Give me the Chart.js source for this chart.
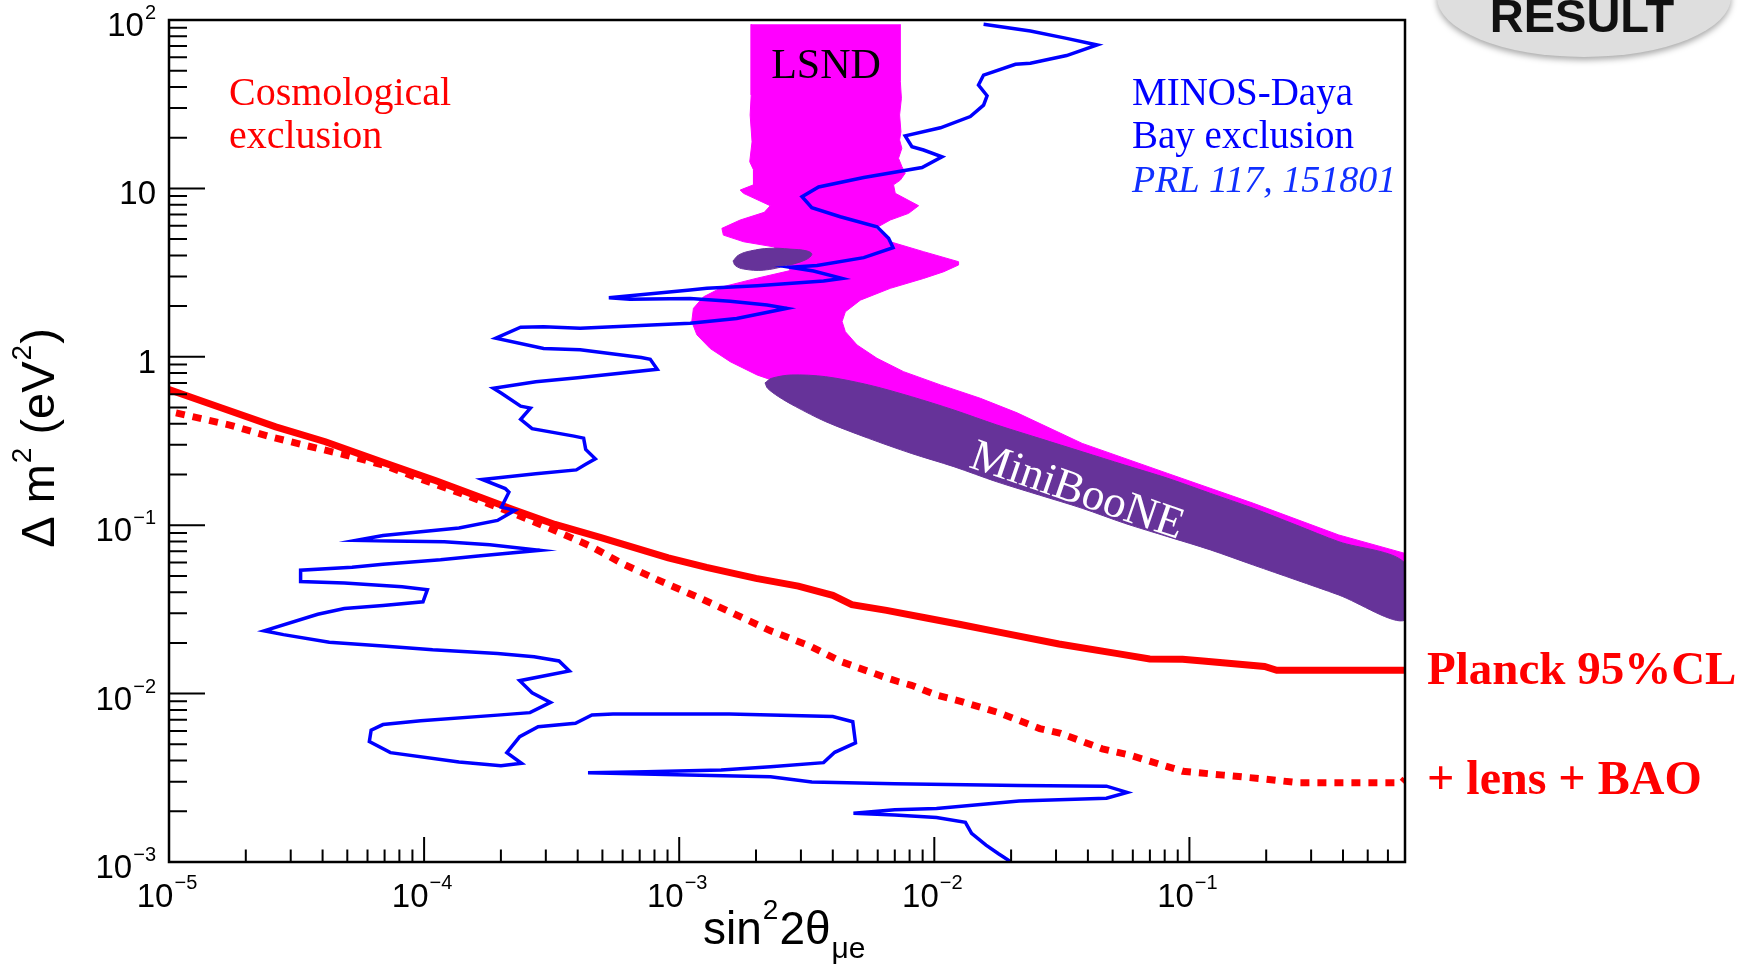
<!DOCTYPE html>
<html>
<head>
<meta charset="utf-8">
<script src="https://cdn.jsdelivr.net/npm/chart.js@4.4.1/dist/chart.umd.min.js"></script>
<style>
  html, body { margin: 0; padding: 0; background: #fff; }
  #wrap { width: 1744px; height: 967px; }
</style>
</head>
<body>
<div id="wrap"><canvas id="chart-excl" width="1744" height="967"></canvas></div>
<script>
// ---- data: [sin^2 2theta, dm^2 (eV^2)] ----

// Planck 95%CL, solid red
const planck95 = [[1e-5,0.64],[1.61e-5,0.497],[2.62e-5,0.384],[4.1e-5,0.313],[6.9e-5,0.236],[1.12e-4,0.183],
  [1.69e-4,0.145],[2.23e-4,0.124],[3.26e-4,0.101],[4.9e-4,0.0848],[9.06e-4,0.064],[1.28e-3,0.0562],[2.0e-3,0.0483],
  [2.93e-3,0.0435],[4.0e-3,0.0383],[4.75e-3,0.0337],[6.5e-3,0.0312],[9.2e-3,0.0282],[0.01252,0.0258],[0.01832,0.023],
  [0.0308,0.0197],[0.0516,0.01733],[0.0699,0.01604],[0.094,0.016],[0.113,0.0156],[0.197,0.0145],[0.22,0.01375],[0.7,0.01375]];

// + lens + BAO, dotted red
const lensBao = [[1.065e-5,0.464],[1.73e-5,0.393],[2.44e-5,0.338],[3.45e-5,0.297],[4.87e-5,0.262],[6.9e-5,0.228],
  [9.7e-5,0.188],[1.37e-4,0.156],[2.23e-4,0.118],[3.2e-4,0.094],[4.5e-4,0.075],[6.0e-4,0.059],[8.2e-4,0.0475],
  [1.2e-3,0.037],[1.6e-3,0.0303],[2.28e-3,0.0236],[3.25e-3,0.0192],[4.3e-3,0.0155],[6.5e-3,0.0124],[7.2e-3,0.0118],
  [8.14e-3,0.0112],[0.0102,0.0098],[0.013,0.0089],[0.0179,0.0077],[0.0259,0.0062],[0.0313,0.0058],[0.0455,0.0047],
  [0.0587,0.0043],[0.094,0.00346],[0.136,0.00328],[0.197,0.00311],[0.265,0.00296],[0.68,0.00296],[0.7,0.0031]];

// MINOS - Daya Bay exclusion contour, blue
const minosDayaBay = [[0.0156,94.3],[0.0238,86],[0.033,77.8],[0.0435,71.1],[0.033,61.5],[0.0238,55.3],[0.0208,54.6],
  [0.0156,47.1],[0.0149,41.1],[0.0161,35.5],[0.0156,31.2],[0.01384,26.7],[0.01057,22.9],[7.69e-3,20.5],[8.17e-3,17.7],
  [9.07e-3,16.9],[0.01072,15.4],[8.95e-3,13.3],[5.29e-3,11.6],[3.52e-3,10.2],[3.03e-3,8.93],[3.31e-3,7.68],[4.28e-3,6.79],
  [5.96e-3,5.92],[6.62e-3,5.06],[6.89e-3,4.45],[5.29e-3,3.88],[3.47e-3,3.48],[2.72e-3,3.4],[3.36e-3,3.23],[4.35e-3,2.92],
  [3.68e-3,2.82],[2.02e-3,2.64],[1.285e-3,2.55],[1.104e-3,2.49],[5.3e-4,2.24],[6.41e-4,2.2],[1.104e-3,2.22],[1.585e-3,2.14],
  [2.21e-3,2.03],[2.64e-3,1.94],[2.27e-3,1.85],[1.68e-3,1.69],[1.104e-3,1.58],[4.09e-4,1.48],[2.94e-4,1.51],[2.39e-4,1.5],
  [1.91e-4,1.29],[2.94e-4,1.12],[4.09e-4,1.1],[7.1e-4,0.99],[7.7e-4,0.966],[8.2e-4,0.843],[4.0e-4,0.75],[2.74e-4,0.711],
  [1.87e-4,0.65],[2.01e-4,0.608],[2.39e-4,0.509],[2.61e-4,0.496],[2.39e-4,0.425],[2.65e-4,0.374],[3.87e-4,0.338],
  [4.22e-4,0.329],[4.3e-4,0.282],[4.69e-4,0.248],[4.3e-4,0.23],[3.95e-4,0.213],[2.74e-4,0.202],[1.69e-4,0.187],
  [2.08e-4,0.165],[2.15e-4,0.157],[2.01e-4,0.128],[2.27e-4,0.1225],[1.94e-4,0.1067],[1.37e-4,0.0963],[9.7e-5,0.0915],
  [6.9e-5,0.0869],[5.41e-5,0.0812],[7.38e-5,0.0805],[1.2e-4,0.0797],[1.81e-4,0.0765],[2.84e-4,0.0709],[1.63e-4,0.0656],
  [1.16e-4,0.0623],[6.9e-5,0.0586],[5.22e-5,0.0562],[3.28e-5,0.054],[3.28e-5,0.0463],[4.87e-5,0.0454],[8.2e-5,0.0431],
  [1.03e-4,0.0414],[9.9e-5,0.0351],[6.9e-5,0.0334],[4.87e-5,0.032],[3.83e-5,0.0296],[2.36e-5,0.0236],[2.81e-5,0.0224],
  [4.25e-5,0.0202],[6.9e-5,0.0192],[1.08e-4,0.0182],[1.94e-4,0.01733],[2.7e-4,0.01656],[3.38e-4,0.01563],[3.71e-4,0.01362],
  [2.37e-4,0.01193],[2.65e-4,0.01012],[3.13e-4,0.00887],[2.6e-4,0.00771],[1.94e-4,0.00745],[9.7e-5,0.0069],[6.9e-5,0.00655],
  [6.2e-5,0.00607],[6.1e-5,0.0052],[7.38e-5,0.00446],[1.37e-4,0.00393],[2.0e-4,0.00373],[2.41e-4,0.00386],[2.11e-4,0.00446],
  [2.37e-4,0.00555],[2.8e-4,0.00636],[3.92e-4,0.00667],[4.55e-4,0.00747],[5.5e-4,0.00757],[1.57e-3,0.00757],[4.0e-3,0.0073],
  [4.79e-3,0.00681],[4.91e-3,0.0051],[4.07e-3,0.00448],[3.68e-3,0.00389],[2.28e-3,0.00368],[1.46e-3,0.00352],[7.41e-4,0.00344],
  [4.39e-4,0.00339],[1.08e-3,0.00329],[2.28e-3,0.00321],[3.31e-3,0.00299],[7.0e-3,0.00292],[0.0215,0.00285],[0.0473,0.00282],
  [0.057,0.00259],[0.0473,0.00239],[0.0215,0.0023],[0.0102,0.00208],[7.0e-3,0.00204],[4.82e-3,0.00195],[7.0e-3,0.0019],
  [0.0102,0.00184],[0.01324,0.00172],[0.014,0.00148],[0.01595,0.00126],[0.01785,0.00112],[0.02,0.001]];

// LSND allowed region outline, magenta
const lsndRegion = [[1.915e-3,94.3],[1.915e-3,35.9],[1.897e-3,27.3],[1.93e-3,18.9],[1.89e-3,14.4],[1.955e-3,12.9],
  [1.955e-3,10.5],[1.734e-3,9.78],[1.786e-3,9.35],[2.275e-3,7.89],[2.155e-3,7.21],[1.734e-3,6.49],[1.47e-3,5.79],
  [1.49e-3,5.28],[1.79e-3,4.82],[2.34e-3,4.5],[2.6e-3,3.9],[2.72e-3,3.25],[2.02e-3,2.93],[1.49e-3,2.61],[1.245e-3,2.27],
  [1.137e-3,1.94],[1.12e-3,1.62],[1.173e-3,1.35],[1.323e-3,1.12],[1.585e-3,0.935],[2.02e-3,0.78],[2.41e-3,0.711],
  [3.75e-3,0.55],[0.01194,0.33],[0.038,0.18],[0.121,0.1],[0.385,0.055],[0.7,0.042],[0.7,0.068],[0.385,0.0875],
  [0.178,0.135],[0.0822,0.203],[0.038,0.306],[0.0211,0.465],[0.01515,0.567],[0.01057,0.681],[7.58e-3,0.816],
  [5.96e-3,0.98],[4.98e-3,1.175],[4.48e-3,1.41],[4.35e-3,1.62],[4.48e-3,1.85],[5.13e-3,2.17],[6.72e-3,2.55],
  [9.08e-3,2.92],[0.01089,3.2],[0.01245,3.51],[0.01245,3.67],[9.08e-3,4.21],[6.72e-3,4.82],[5.87e-3,5.79],
  [6.72e-3,6.49],[7.93e-3,7.11],[8.68e-3,7.89],[7.03e-3,9.35],[6.92e-3,10.5],[7.36e-3,11.2],[7.69e-3,12.3],
  [7.46e-3,13.5],[7.24e-3,15.1],[7.46e-3,17.3],[7.31e-3,19.4],[7.4e-3,21.7],[7.31e-3,27.3],[7.43e-3,34.3],
  [7.36e-3,43],[7.36e-3,94.3]];

// MiniBooNE allowed regions, purple
const miniBooneBand = [[2.17e-3,0.70],[2.3e-3,0.745],[2.75e-3,0.78],[3.75e-3,0.762],[5.52e-3,0.681],[8.12e-3,0.58],
  [0.01194,0.483],[0.01757,0.394],[0.0258,0.328],[0.038,0.273],[0.0558,0.2275],[0.0822,0.19],[0.121,0.1545],
  [0.178,0.126],[0.262,0.1003],[0.385,0.0798],[0.7,0.0594],[0.7,0.0273],[0.385,0.0385],[0.262,0.0473],[0.178,0.058],
  [0.121,0.0713],[0.0822,0.0855],[0.0558,0.1026],[0.038,0.126],[0.0258,0.151],[0.01757,0.181],[0.01194,0.2225],
  [8.12e-3,0.267],[5.52e-3,0.328],[3.75e-3,0.412],[2.86e-3,0.506],[2.45e-3,0.58],[2.22e-3,0.65],[2.17e-3,0.70]];
const miniBooneIsland = [[1.626e-3,3.71],[1.71e-3,4.02],[1.90e-3,4.25],[2.27e-3,4.41],[2.72e-3,4.36],[3.17e-3,4.25],
  [3.31e-3,4.06],[3.12e-3,3.76],[2.64e-3,3.48],[2.14e-3,3.27],[1.79e-3,3.32],[1.66e-3,3.48],[1.626e-3,3.71]];

// axes
const xMajorTicks = [1e-5, 1e-4, 1e-3, 1e-2, 1e-1];
const xTickExp = ['\u22125', '\u22124', '\u22123', '\u22122', '\u22121'];
const yMajorTicks = [1e-3, 1e-2, 1e-1, 1, 10, 100];
const yTickBase = ['10', '10', '10', '1', '10', '10'];
const yTickExp = ['\u22123', '\u22122', '\u22121', '', '', '2'];
const minorSteps = [2, 3, 4, 5, 6, 7, 8, 9];

const SANS = '"Liberation Sans", Arial, Helvetica, sans-serif';
const SERIF = '"Liberation Serif", "Times New Roman", serif';

const toXY = pts => pts.map(([x, y]) => ({x, y}));

// draws a run of text pieces {t, size, dy, gap, style}
function richText(ctx, parts, x, y, align, family) {
  let total = 0;
  parts.forEach(p => {
    ctx.font = `${p.style || ''} ${p.size}px ${family}`;
    p.w = ctx.measureText(p.t).width;
    total += p.w + (p.gap || 0);
  });
  let cx = align === 'center' ? x - total / 2 : (align === 'right' ? x - total : x);
  ctx.textAlign = 'left';
  ctx.textBaseline = 'alphabetic';
  parts.forEach(p => {
    cx += p.gap || 0;
    ctx.font = `${p.style || ''} ${p.size}px ${family}`;
    ctx.fillText(p.t, cx, y + (p.dy || 0));
    cx += p.w;
  });
}

// frame, inward ticks and tick labels (ROOT style)
const rootAxes = {
  id: 'rootAxes',
  afterDatasetsDraw(chart) {
    const {ctx, chartArea: a, scales: {x, y}} = chart;
    ctx.save();
    ctx.strokeStyle = '#000';
    ctx.lineWidth = 2;
    ctx.beginPath();
    for (let e = -5; e <= -1; e++) {
      const base = Math.pow(10, e);
      const px = x.getPixelForValue(base);
      ctx.moveTo(px, a.bottom); ctx.lineTo(px, a.bottom - 25);
      minorSteps.forEach(m => {
        const v = m * base;
        if (v >= x.max) return;
        const p = x.getPixelForValue(v);
        ctx.moveTo(p, a.bottom); ctx.lineTo(p, a.bottom - 12.5);
      });
    }
    for (let e = -3; e <= 2; e++) {
      const base = Math.pow(10, e);
      const py = y.getPixelForValue(base);
      ctx.moveTo(a.left, py); ctx.lineTo(a.left + 36, py);
      if (e === 2) continue;
      minorSteps.forEach(m => {
        const p = y.getPixelForValue(m * base);
        ctx.moveTo(a.left, p); ctx.lineTo(a.left + 18, p);
      });
    }
    ctx.stroke();
    ctx.lineWidth = 2.5;
    ctx.strokeRect(a.left, a.top, a.right - a.left, a.bottom - a.top);

    ctx.fillStyle = '#000';
    xMajorTicks.forEach((v, i) => {
      const px = x.getPixelForValue(v);
      richText(ctx, [{t: '10', size: 33}, {t: xTickExp[i], size: 20, dy: -18, gap: 1}], px - 2, a.bottom + 45, 'center', SANS);
    });
    yMajorTicks.forEach((v, i) => {
      const py = y.getPixelForValue(v);
      const parts = [{t: yTickBase[i], size: 33, dy: 16}];
      if (yTickExp[i]) parts.push({t: yTickExp[i], size: 20, dy: -1, gap: 1});
      richText(ctx, parts, a.left - 13, py, 'right', SANS);
    });

    // axis titles
    richText(ctx, [{t: 'sin', size: 46}, {t: '2', size: 28, dy: -25, gap: 1}, {t: '2\u03b8', size: 46, gap: 1},
      {t: '\u03bce', size: 30, dy: 14, gap: 1}], 703, 944, 'left', SANS);
    ctx.save();
    ctx.translate(54, 438);
    ctx.rotate(-Math.PI / 2);
    richText(ctx, [{t: '\u0394 m', size: 47}, {t: '2', size: 28, dy: -23, gap: 1}, {t: ' (eV', size: 47},
      {t: '2', size: 28, dy: -23, gap: 1}, {t: ')', size: 47, gap: 1}], 0, 0, 'center', SANS);
    ctx.restore();
    ctx.restore();
  },
  afterDraw(chart) {
    const {ctx} = chart;
    ctx.save();
    // region / curve labels
    ctx.fillStyle = '#ff0000';
    richText(ctx, [{t: 'Cosmological', size: 40}], 229, 105, 'left', SERIF);
    richText(ctx, [{t: 'exclusion', size: 40}], 229, 148, 'left', SERIF);
    ctx.fillStyle = '#0000ff';
    richText(ctx, [{t: 'MINOS-Daya', size: 39}], 1132, 105, 'left', SERIF);
    richText(ctx, [{t: 'Bay exclusion', size: 39}], 1132, 148, 'left', SERIF);
    ctx.fillStyle = '#1030ff';
    richText(ctx, [{t: 'PRL 117, 151801', size: 38, style: 'italic'}], 1132, 192, 'left', SERIF);
    ctx.fillStyle = '#000';
    richText(ctx, [{t: 'LSND', size: 42}], 826, 78, 'center', SERIF);
    ctx.save();
    ctx.translate(1073, 503);
    ctx.rotate(19 * Math.PI / 180);
    ctx.fillStyle = '#ffffff';
    richText(ctx, [{t: 'MiniBooNE', size: 45}], 0, 0, 'center', SERIF);
    ctx.restore();
    ctx.fillStyle = '#ff0000';
    richText(ctx, [{t: 'Planck 95%CL', size: 47, style: 'bold'}], 1427, 684, 'left', SERIF);
    richText(ctx, [{t: '+ lens + BAO', size: 48, style: 'bold'}], 1427, 794, 'left', SERIF);

    // grey "RESULT" badge, top right
    ctx.save();
    ctx.shadowColor = 'rgba(0,0,0,0.35)';
    ctx.shadowBlur = 6;
    ctx.shadowOffsetY = 3;
    ctx.fillStyle = '#dedede';
    ctx.beginPath();
    ctx.ellipse(1584, -3, 147, 60, 0, 0, Math.PI * 2);
    ctx.fill();
    ctx.restore();
    ctx.fillStyle = '#111';
    richText(ctx, [{t: 'RESULT', size: 47, style: 'bold'}], 1582, 32, 'center', SANS);
    ctx.restore();
  }
};

const ctxExcl = document.getElementById('chart-excl');
const chartExcl = new Chart(ctxExcl, {
  type: 'scatter',
  data: {
    datasets: [{
      label: 'MINOS-Daya Bay',
      data: toXY(minosDayaBay),
      showLine: true,
      borderColor: '#0000ff',
      borderWidth: 3.5,
      pointRadius: 0,
      fill: false,
      clip: 0,
      order: 0,
    }, {
      label: 'Planck 95%CL',
      data: toXY(planck95),
      showLine: true,
      borderColor: '#ff0000',
      borderWidth: 7,
      pointRadius: 0,
      fill: false,
      clip: 0,
      order: 1,
    }, {
      label: '+ lens + BAO',
      data: toXY(lensBao),
      showLine: true,
      borderColor: '#ff0000',
      borderWidth: 7,
      borderDash: [9, 8],
      pointRadius: 0,
      fill: false,
      clip: 0,
      order: 2,
    }, {
      label: 'MiniBooNE',
      data: toXY(miniBooneBand),
      showLine: true,
      borderColor: '#663399',
      backgroundColor: '#663399',
      borderWidth: 1,
      tension: 0.3,
      pointRadius: 0,
      fill: 'shape',
      clip: 0,
      order: 3,
    }, {
      label: 'MiniBooNE (island)',
      data: toXY(miniBooneIsland),
      showLine: true,
      borderColor: '#663399',
      backgroundColor: '#663399',
      borderWidth: 1,
      tension: 0.4,
      pointRadius: 0,
      fill: 'shape',
      clip: 0,
      order: 4,
    }, {
      label: 'LSND',
      data: toXY(lsndRegion),
      showLine: true,
      borderColor: '#ff00ff',
      backgroundColor: '#ff00ff',
      borderWidth: 1,
      pointRadius: 0,
      fill: 'shape',
      clip: 0,
      order: 5,
    }]
  },
  options: {
    responsive: false,
    animation: false,
    layout: {padding: {left: 169, top: 20, right: 339, bottom: 105}},
    plugins: {legend: {display: false}, tooltip: {enabled: false}},
    scales: {
      x: {type: 'logarithmic', min: 1e-5, max: 0.7, display: false},
      y: {type: 'logarithmic', min: 1e-3, max: 100, display: false}
    }
  },
  plugins: [rootAxes]
});
</script>
</body>
</html>
